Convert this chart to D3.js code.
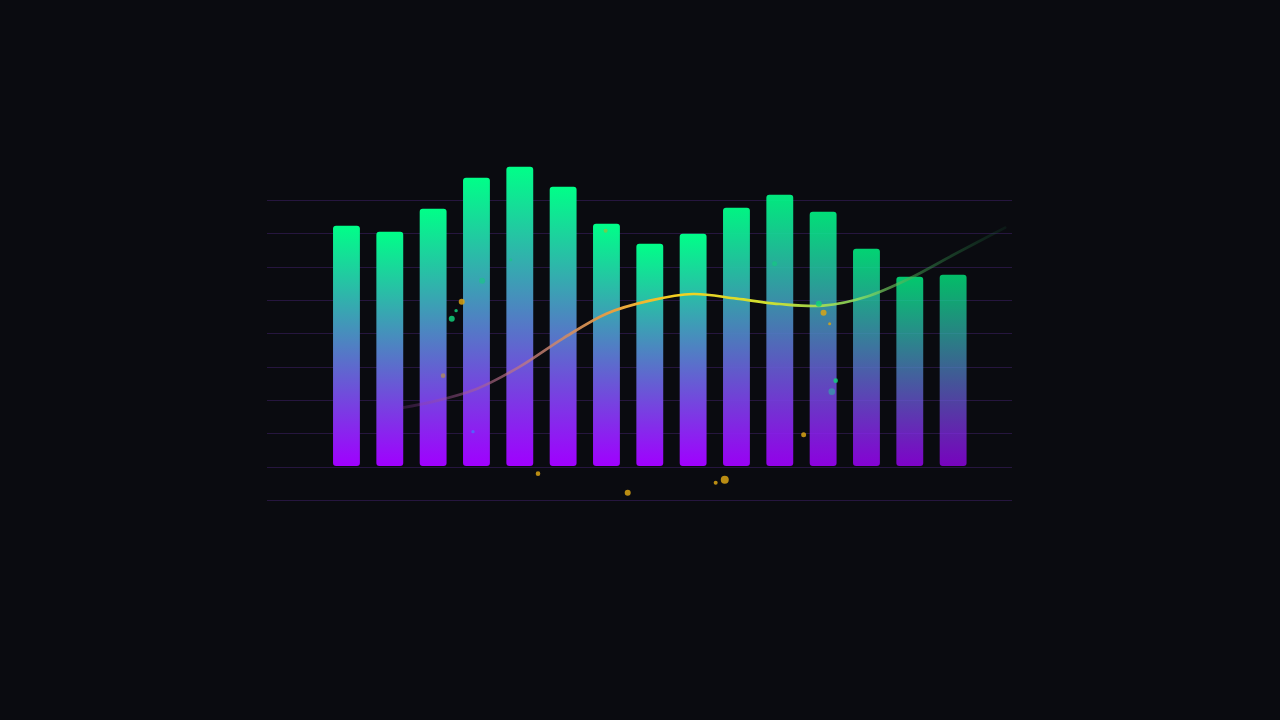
<!DOCTYPE html>
<html>
<head>
<meta charset="utf-8">
<script src="https://cdn.jsdelivr.net/npm/d3@7"></script>
<style>
html,body{margin:0;padding:0;background:#0a0b10;}
svg{display:block;}
</style>
</head>
<body>
<svg id="chart" width="1280" height="720"></svg>
<script>
// ---- data ----
const categories = ["1","2","3","4","5","6","7","8","9","10","11","12","13","14","15"];
const barValues = [72.3, 70.5, 77.4, 86.7, 90.0, 84.0, 72.9, 66.9, 69.9, 77.7, 81.6, 76.5, 65.4, 57.0, 57.6];
const gridTicks = [-10, 0, 10, 20, 30, 40, 50, 60, 70, 80];
const trendIdx = [1.3, 2, 3, 4, 5, 6, 7, 8, 9, 10, 11, 12, 13, 14, 15.2];
const trendValues = [17.7, 19.5, 23.3, 30, 38.5, 45.9, 49.8, 51.8, 50.4, 48.8, 48.3, 51.0, 56.5, 63.5, 71.7];
const dotIdx = [2.66, 2.53, 2.43, 2.23, 3.13, 3.79, 2.92, 4.42, 5.98, 9.88, 6.49, 8.52, 8.73, 10.90, 11.01, 11.15, 11.29, 11.20, 10.55];
const dotValues = [49.5, 46.8, 44.4, 27.3, 55.8, 62.1, 10.5, -2.1, 70.8, 60.9, -7.8, -4.8, -3.9, 48.9, 46.2, 42.9, 25.8, 22.5, 9.6];
const dotKinds = ["y","g","g","y","g","g","b","y","y","g","y","y","y","g","y","y","g","t","y"];
const dotSizes = [3, 1.7, 3, 2.3, 3, 1.5, 1.7, 2.3, 2, 2.5, 3, 2, 4, 3, 3, 1.5, 2.3, 3.3, 2.5];
const dotFaded = [0,0,0,1,1,1,0,0,1,1,0,0,0,0,0,0,0,1,0];

// ---- scales ----
const svg = d3.select("#chart");
const x = d3.scaleBand().domain(categories).range([324.8, 974.8]).paddingInner(0.38).paddingOuter(0.19);
const y = d3.scaleLinear().domain([-10, 80]).range([500, 200]);
const xi = d3.scaleLinear().domain([0, 14]).range([x(categories[0]) + x.bandwidth()/2, x(categories[14]) + x.bandwidth()/2]);

const defs = svg.append("defs");
const bg = defs.append("linearGradient").attr("id","barGrad").attr("x1",0).attr("y1",0).attr("x2",0).attr("y2",1);
bg.append("stop").attr("offset","0%").attr("stop-color","#00ff88");
bg.append("stop").attr("offset","100%").attr("stop-color","#a000ff");

const lg = defs.append("linearGradient").attr("id","lineGrad").attr("gradientUnits","userSpaceOnUse")
  .attr("x1",400).attr("y1",0).attr("x2",1010).attr("y2",0);
[[0,"#8a3aa0",0.25],[0.2,"#c07880",0.75],[0.35,"#e8a040",1],[0.45,"#f5d020",1],[0.6,"#d0e030",1],[0.75,"#90e060",0.85],[0.87,"#3a9a50",0.45],[1,"#1a7040",0.12]]
  .forEach(s => lg.append("stop").attr("offset", s[0]).attr("stop-color", s[1]).attr("stop-opacity", s[2]));

// grid
svg.append("g").selectAll("line").data(gridTicks).join("line")
  .attr("x1", 267).attr("x2", 1012)
  .attr("y1", d => Math.round(y(d)) + 0.5).attr("y2", d => Math.round(y(d)) + 0.5)
  .attr("stroke", "#26163f").attr("stroke-width", 1);

// bars
const base = y(0) - 0.6;
svg.append("g").selectAll("rect").data(barValues).join("rect")
  .attr("x", (d,i) => x(categories[i]))
  .attr("width", x.bandwidth())
  .attr("y", d => y(d))
  .attr("height", d => base - y(d))
  .attr("rx", 3)
  .attr("fill", "url(#barGrad)")
  .attr("opacity", (d,i) => i < 9 ? 1 : 1 - (i - 8) * 0.045);

// trend line
const pts = trendIdx.map((v,i) => [xi(v), y(trendValues[i])]);
svg.append("path").attr("d", d3.line().curve(d3.curveCatmullRom.alpha(0.5))(pts))
  .attr("fill","none").attr("stroke","url(#lineGrad)").attr("stroke-width",2.7).attr("stroke-linecap","round");

// dots
const dotColor = {y:"#d9a514", g:"#10d07a", b:"#4a6cff", t:"#20c8a0"};
svg.append("g").selectAll("circle").data(dotValues).join("circle")
  .attr("cx", (d,i) => xi(dotIdx[i]))
  .attr("cy", d => y(d))
  .attr("r", (d,i) => dotSizes[i])
  .attr("fill", (d,i) => dotColor[dotKinds[i]])
  .attr("opacity", (d,i) => dotFaded[i] ? 0.5 : 0.85);
</script>
</body>
</html>
